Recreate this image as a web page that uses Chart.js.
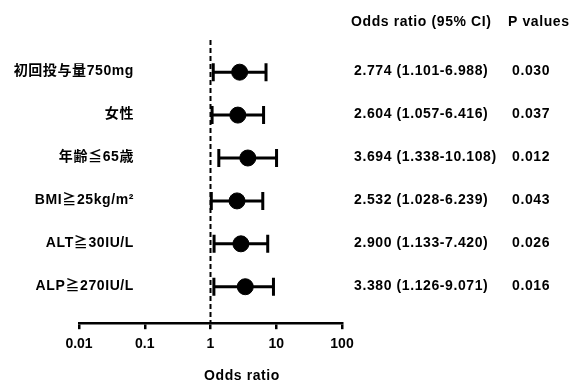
<!DOCTYPE html>
<html lang="ja">
<head>
<meta charset="UTF-8">
<title>Forest plot</title>
<script src="https://cdn.jsdelivr.net/npm/chart.js"></script>
<style>
  body { margin: 0; background: #fff; }
  canvas { display: block; }
</style>
</head>
<body>
<canvas id="forest" width="570" height="380"></canvas>
<script>
const labels = ["初回投与量750mg", "女性", "年齢≦65歳", "BMI≧25kg/m²", "ALT≧30IU/L", "ALP≧270IU/L"];
const oddsRatio = [2.774, 2.604, 3.694, 2.532, 2.900, 3.380];
const ciLower = [1.101, 1.057, 1.338, 1.028, 1.133, 1.126];
const ciUpper = [6.988, 6.416, 10.108, 6.239, 7.420, 9.071];
const pValues = ["0.030", "0.037", "0.012", "0.043", "0.026", "0.016"];
const xTicks = [0.01, 0.1, 1, 10, 100];

const FONT = "'Liberation Sans', 'Noto Sans CJK JP', Arial, sans-serif";

const points = oddsRatio.map((v, i) => ({ x: v, y: i + 1 }));

const forestPlugin = {
  id: 'forest',
  beforeDatasetsDraw(chart) {
    const { ctx, chartArea, scales } = chart;
    const x = scales.x, y = scales.y;
    ctx.save();
    // reference line at OR = 1
    ctx.strokeStyle = '#000';
    ctx.lineWidth = 2;
    ctx.setLineDash([5, 3]);
    ctx.beginPath();
    ctx.moveTo(x.getPixelForValue(1), chartArea.top);
    ctx.lineTo(x.getPixelForValue(1), chartArea.bottom);
    ctx.stroke();
    ctx.setLineDash([]);
    // confidence intervals
    ctx.lineWidth = 3;
    oddsRatio.forEach((v, i) => {
      const py = y.getPixelForValue(i + 1);
      const x1 = x.getPixelForValue(ciLower[i]);
      const x2 = x.getPixelForValue(ciUpper[i]);
      ctx.beginPath();
      ctx.moveTo(x1, py); ctx.lineTo(x2, py);
      ctx.moveTo(x1, py - 9); ctx.lineTo(x1, py + 9);
      ctx.moveTo(x2, py - 9); ctx.lineTo(x2, py + 9);
      ctx.stroke();
    });
    ctx.restore();
  },
  afterDraw(chart) {
    const { ctx, scales } = chart;
    const y = scales.y;
    ctx.save();
    ctx.fillStyle = '#000';
    ctx.textBaseline = 'middle';
    ctx.font = 'bold 14px ' + FONT;
    ctx.letterSpacing = '0.6px';
    ctx.textAlign = 'left';
    ctx.fillText('Odds ratio (95% CI)', 351, 22);
    ctx.fillText('P values', 508, 22);
    labels.forEach((lab, i) => {
      const py = y.getPixelForValue(i + 1) - 1;
      ctx.textAlign = 'right';
      ctx.fillText(lab, 134, py);
      ctx.textAlign = 'left';
      const txt = oddsRatio[i].toFixed(3) + ' (' + ciLower[i].toFixed(3) + '-' + ciUpper[i].toFixed(3) + ')';
      ctx.fillText(txt, 354, py);
      ctx.fillText(pValues[i], 512, py);
    });
    // x-axis title
    ctx.textAlign = 'center';
    ctx.fillText('Odds ratio', 242, 376);
    ctx.restore();
  }
};

new Chart(document.getElementById('forest'), {
  type: 'scatter',
  data: {
    datasets: [{
      data: points,
      pointRadius: 8,
      pointHoverRadius: 8,
      backgroundColor: '#000',
      borderColor: '#000'
    }]
  },
  options: {
    responsive: false,
    animation: false,
    layout: { padding: { left: 79, right: 228, top: 40, bottom: 20 } },
    plugins: { legend: { display: false }, tooltip: { enabled: false } },
    scales: {
      x: {
        type: 'logarithmic',
        min: 0.01,
        max: 100,
        afterBuildTicks(scale) { scale.ticks = xTicks.map(v => ({ value: v })); },
        grid: { drawOnChartArea: false, drawTicks: true, tickLength: 6, color: '#000', lineWidth: 2.5 },
        border: { display: true, color: '#000', width: 2.5 },
        ticks: {
          color: '#000',
          font: { family: FONT, size: 14, weight: 'bold' },
          padding: 7,
          maxRotation: 0,
          callback: v => String(v)
        },
        title: { display: false }
      },
      y: {
        type: 'linear',
        display: false,
        reverse: true,
        min: 0.25,
        max: 6.85
      }
    }
  },
  plugins: [forestPlugin]
});
</script>
</body>
</html>
